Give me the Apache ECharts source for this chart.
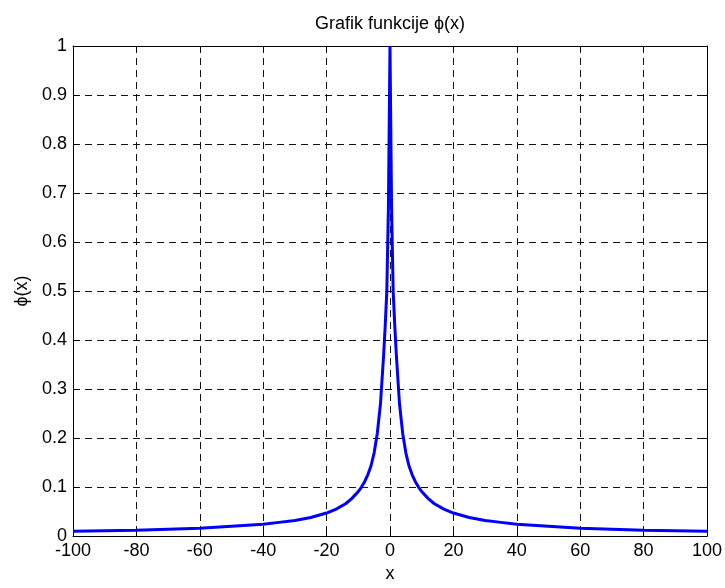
<!DOCTYPE html>
<html>
<head>
<meta charset="utf-8">
<title>Grafik funkcije</title>
<script src="https://cdn.jsdelivr.net/npm/echarts@6/dist/echarts.min.js"></script>
<style>
  html, body { margin: 0; padding: 0; background: #ffffff; }
  #chart { width: 725px; height: 588px; }
</style>
</head>
<body>
<div id="chart"></div>
<script>
(function () {
  // values
  var xValues = [
    -100, -90, -80, -70, -60, -50, -45, -40, -35, -30, -25, -20, -17, -14, -12, -10, -9, -8, -7, -6, -5, -4, -3, -2, -1.5, -1, -0.5,
    0,
    0.5, 1, 1.5, 2, 3, 4, 5, 6, 7, 8, 9, 10, 12, 14, 17, 20, 25, 30, 35, 40, 45, 50, 60, 70, 80, 90, 100
  ];
  var phiValues = [
    0.010, 0.011, 0.012, 0.014, 0.016, 0.020, 0.022, 0.024, 0.028, 0.032, 0.038, 0.047, 0.055, 0.066, 0.077, 0.091, 0.100, 0.111, 0.125, 0.143, 0.170, 0.210, 0.270, 0.370, 0.430, 0.500, 0.670,
    1.000,
    0.670, 0.500, 0.430, 0.370, 0.270, 0.210, 0.170, 0.143, 0.125, 0.111, 0.100, 0.091, 0.077, 0.066, 0.055, 0.047, 0.038, 0.032, 0.028, 0.024, 0.022, 0.020, 0.016, 0.014, 0.012, 0.011, 0.010
  ];
  var titleText = "Grafik funkcije \u03d5(x)";
  var xName = "x";
  var yName = "\u03d5(x)";

  var font = "Liberation Sans, Arial, sans-serif";
  var chart = echarts.init(document.getElementById("chart"), null, { renderer: "canvas" });

  var points = xValues.map(function (x, i) {
    return [x, phiValues[i]];
  });

  var gridDash = {
    show: true,
    lineStyle: { color: "#111111", width: 1, type: [7, 5] }
  };
  var boxLine = { show: true, onZero: false, lineStyle: { color: "#000000", width: 1 } };
  var insideTick = { show: true, inside: true, length: 5, lineStyle: { color: "#000000" } };

  chart.setOption({
    animation: false,
    backgroundColor: "#ffffff",
    textStyle: { fontFamily: font },
    grid: { left: 73, right: 18, top: 46, bottom: 46, containLabel: false },
    xAxis: [
      {
        type: "value",
        min: -100,
        max: 100,
        interval: 20,
        position: "bottom",
        name: xName,
        nameLocation: "middle",
        nameGap: 24,
        nameTextStyle: { color: "#000000", fontSize: 18, fontFamily: font },
        axisLine: boxLine,
        axisTick: insideTick,
        axisLabel: { color: "#000000", fontSize: 18, margin: 6, fontFamily: font },
        splitLine: gridDash
      },
      {
        type: "value",
        min: -100,
        max: 100,
        interval: 20,
        position: "top",
        name: titleText,
        nameLocation: "middle",
        nameGap: 13,
        nameTextStyle: { color: "#000000", fontSize: 18, fontFamily: font },
        axisLine: boxLine,
        axisTick: insideTick,
        axisLabel: { show: false },
        splitLine: { show: false }
      }
    ],
    yAxis: [
      {
        type: "value",
        min: 0,
        max: 1,
        interval: 0.1,
        position: "left",
        name: yName,
        nameLocation: "middle",
        nameGap: 42,
        nameTextStyle: { color: "#000000", fontSize: 18, fontFamily: font },
        axisLine: boxLine,
        axisTick: insideTick,
        axisLabel: {
          color: "#000000",
          fontSize: 18,
          margin: 6,
          fontFamily: font,
          formatter: function (v) {
            return String(Math.round(v * 10) / 10);
          }
        },
        splitLine: gridDash
      },
      {
        type: "value",
        min: 0,
        max: 1,
        interval: 0.1,
        position: "right",
        axisLine: boxLine,
        axisTick: insideTick,
        axisLabel: { show: false },
        splitLine: { show: false }
      }
    ],
    series: [
      {
        type: "line",
        data: points,
        xAxisIndex: 0,
        yAxisIndex: 0,
        showSymbol: false,
        smooth: false,
        clip: true,
        lineStyle: { color: "#0000ff", width: 3 },
        itemStyle: { color: "#0000ff" }
      }
    ]
  });
})();
</script>
</body>
</html>
